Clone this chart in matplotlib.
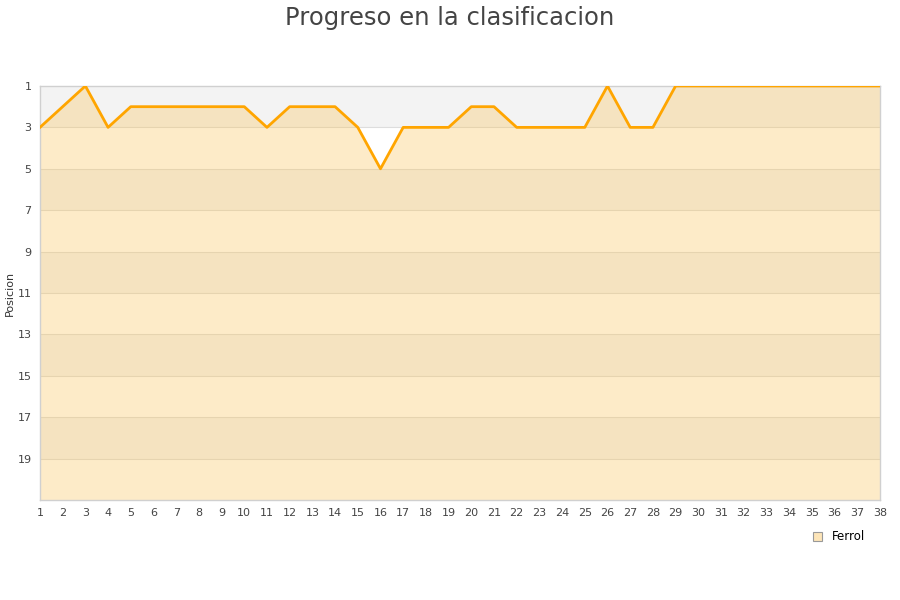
import matplotlib
matplotlib.use("Agg")
import matplotlib.pyplot as plt
from matplotlib.patches import Patch

jornadas = list(range(1, 39))
posiciones = [3, 2, 1, 3, 2, 2, 2, 2, 2, 2,
              3, 2, 2, 2, 3, 5, 3, 3, 3, 2,
              2, 3, 3, 3, 3, 1, 3, 3, 1, 1,
              1, 1, 1, 1, 1, 1, 1, 1]
equipo = "Ferrol"
y_ticks = list(range(1, 21, 2))

fig = plt.figure(figsize=(9, 6), dpi=100)
ax = fig.add_axes([0.0444, 0.1667, 0.9333, 0.69])

# bandas de fondo alternas
for i, y0 in enumerate(range(1, 21, 2)):
    color = "#f3f3f3" if i % 2 == 0 else "#ffffff"
    ax.axhspan(y0, y0 + 2, color=color, zorder=0, lw=0)
for y in y_ticks[1:]:
    ax.axhline(y, color="#dddddd", lw=0.8, zorder=1)

ax.fill_between(jornadas, posiciones, 21, color="#fbc04b", alpha=0.3, lw=0, zorder=2)
ax.plot(jornadas, posiciones, color="#ffa500", lw=2.0, zorder=3)

ax.set_xlim(1, 38)
ax.set_ylim(21, 1)
ax.set_xticks(jornadas)
ax.set_yticks(y_ticks)
ax.tick_params(length=0, labelsize=8, colors="#444444", pad=6)
for s in ax.spines.values():
    s.set_color("#d0d0d0")
    s.set_linewidth(1)
ax.set_ylabel("Posicion", fontsize=8, color="#333333", labelpad=2)

fig.suptitle("Progreso en la clasificacion", fontsize=17.5, color="#444444", y=0.99)

leg = fig.legend(handles=[Patch(facecolor="#fde5b8", edgecolor="#999999", lw=0.8, label=equipo)],
                 loc="center", bbox_to_anchor=(0.932, 0.105), frameon=False,
                 fontsize=8.5, handlelength=0.8, handleheight=0.8, handletextpad=0.8)

fig.savefig("out.png", dpi=100)
